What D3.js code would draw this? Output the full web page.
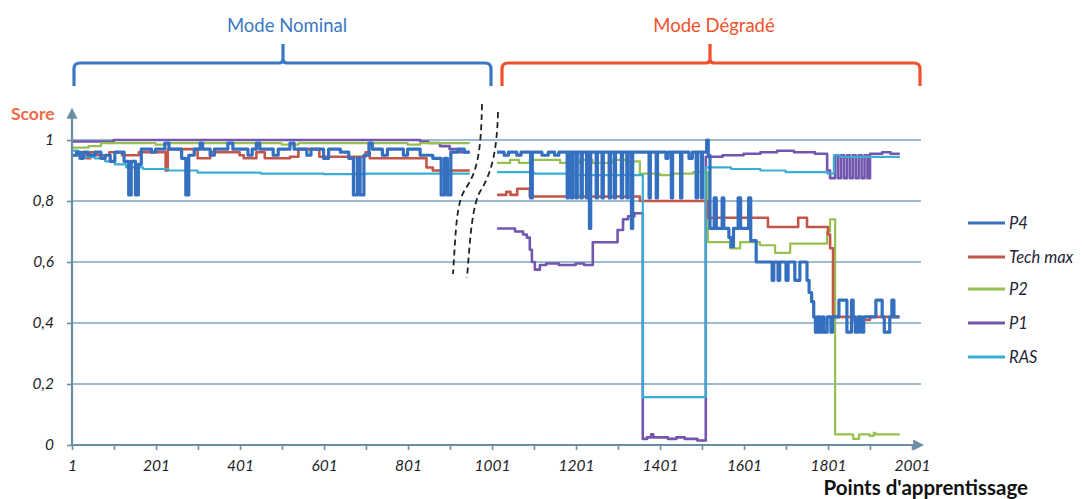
<!DOCTYPE html>
<html>
<head>
<meta charset="utf-8">
<script src="https://cdn.jsdelivr.net/npm/d3@7"></script>
<style>
  html, body { margin: 0; padding: 0; background: #ffffff; }
  svg { display: block; }
  text { font-family: Lato, "Open Sans", "Liberation Sans", sans-serif; }
</style>
</head>
<body>
<svg id="chart" width="1082" height="499"></svg>
<script>
// ---------------- DATA ----------------
// Each series: list of [learning-point index, score]; value holds until the next entry (null = gap)
const seriesNames = ["P4", "Tech max", "P2", "P1", "RAS"];

const P4 = [
  [1,0.95],[12,0.96],[20,0.94],[28,0.96],[40,0.95],[55,0.96],[70,0.94],[80,0.95],[92,0.93],[103,0.96],
  [125,0.93],[136,0.82],[142,0.93],[152,0.82],[159,0.92],[166,0.97],[190,0.96],[200,0.97],[222,0.99],[232,0.97],
  [262,0.94],[272,0.82],[279,0.95],[292,0.97],[306,0.99],[312,0.97],[330,0.95],[340,0.97],[372,0.99],[384,0.97],
  [420,0.95],[430,0.97],[440,0.99],[448,0.97],[480,0.95],[492,0.97],[520,0.99],[530,0.97],[560,0.95],[570,0.97],
  [600,0.94],[612,0.97],[640,0.96],[660,0.94],[671,0.82],[680,0.94],[687,0.82],[696,0.95],[708,0.99],[716,0.97],
  [740,0.95],[752,0.97],[790,0.95],[800,0.97],[830,0.95],[860,0.94],[880,0.82],[888,0.94],[895,0.82],[903,0.96],
  [920,0.97],[935,0.96],[948,null],
  [1013,0.96],[1030,0.95],[1040,0.96],[1060,0.95],[1070,0.96],[1093,0.81],[1097,0.96],[1120,0.95],[1135,0.96],
  [1150,0.95],[1160,0.96],[1180,0.81],[1183,0.96],[1190,0.81],[1193,0.96],[1201,0.81],[1204,0.96],[1213,0.81],
  [1216,0.96],[1226,0.81],[1229,0.96],[1233,0.71],[1236,0.96],[1249,0.81],[1252,0.96],[1263,0.81],[1266,0.96],
  [1280,0.81],[1283,0.96],[1292,0.81],[1295,0.96],[1309,0.81],[1312,0.96],[1322,0.81],[1325,0.96],[1333,0.71],
  [1336,0.96],[1375,0.81],[1378,0.96],[1392,0.81],[1395,0.96],[1415,0.94],[1420,0.96],[1428,0.81],[1431,0.96],
  [1450,0.81],[1453,0.96],[1470,0.94],[1478,0.96],[1487,0.81],[1490,0.96],[1499,0.81],[1502,0.96],[1512,1.0],
  [1516,0.95],[1520,0.71],[1530,0.81],[1535,0.71],[1549,0.81],[1553,0.71],[1565,0.68],
  [1570,0.65],[1576,0.71],[1587,0.81],[1593,0.71],[1612,0.81],[1617,0.67],[1630,0.60],[1668,0.54],[1672,0.60],
  [1682,0.54],[1686,0.60],[1701,0.54],[1706,0.60],[1722,0.54],[1734,0.60],[1751,0.54],[1756,0.50],[1762,0.47],
  [1767,0.42],[1771,0.37],[1776,0.42],[1781,0.37],[1787,0.42],[1791,0.37],[1799,0.42],[1808,0.37],[1812,0.42],
  [1827,0.475],[1846,0.37],[1857,0.475],[1861,0.42],[1866,0.37],[1873,0.42],[1880,0.37],[1886,0.42],[1915,0.475],
  [1930,0.42],[1935,0.37],[1948,0.42],[1953,0.475],[1958,0.42],[1970,null]
];

const TechMax = [
  [1,0.95],[20,0.96],[35,0.94],[45,0.96],[60,0.95],[90,0.96],[120,0.95],[160,0.96],[224,0.90],[229,0.97],
  [300,0.94],[330,0.96],[400,0.95],[410,0.94],[440,0.96],[460,0.94],[520,0.945],[540,0.97],[590,0.945],
  [700,0.96],[710,0.94],[845,0.91],[860,0.90],[948,null],
  [1013,0.82],[1035,0.83],[1045,0.82],[1061,0.84],[1091,0.815],[1353,0.80],[1515,0.745],[1658,0.715],
  [1730,0.745],[1751,0.715],[1801,0.69],[1806,0.645],[1813,0.42],[1860,0.41],[1870,0.40],[1884,0.41],
  [1901,0.42],[1972,null]
];

const P2 = [
  [1,0.975],[40,0.98],[70,0.99],[200,0.985],[230,0.99],[500,0.985],[540,0.99],[800,0.985],[830,0.99],[948,null],
  [1013,0.925],[1044,0.935],[1065,0.925],[1091,0.935],[1163,0.925],[1210,0.935],[1240,0.925],[1290,0.935],
  [1320,0.93],[1353,0.89],[1400,0.885],[1430,0.89],[1480,0.895],[1515,0.665],[1568,0.645],[1592,0.665],
  [1639,0.655],[1675,0.63],[1711,0.66],[1799,0.70],[1806,0.74],[1818,0.035],[1861,0.02],[1875,0.035],
  [1900,0.03],[1910,0.04],[1914,0.035],[1972,null]
];

const P1 = [
  [1,0.995],[100,1.0],[830,0.995],[849,0.99],[877,0.98],[900,0.97],[925,0.96],[948,null],
  [1013,0.71],[1056,0.70],[1075,0.69],[1084,0.68],[1091,0.64],[1096,0.60],[1103,0.575],[1115,0.59],
  [1130,0.595],[1160,0.59],[1200,0.595],[1220,0.59],[1241,0.665],[1300,0.705],[1313,0.74],[1325,0.75],
  [1340,0.76],[1360,0.02],[1370,0.025],[1380,0.035],[1385,0.025],[1420,0.02],[1440,0.025],[1460,0.02],
  [1490,0.015],[1510,0.945],[1550,0.95],[1600,0.955],[1640,0.96],[1680,0.965],[1720,0.96],[1770,0.955],
  [1799,0.90],[1806,0.875],[1818,0.95],[1825,0.875],[1832,0.95],[1839,0.875],[1846,0.95],[1853,0.875],
  [1860,0.95],[1867,0.875],[1874,0.95],[1881,0.875],[1888,0.95],[1895,0.875],[1901,0.955],[1930,0.96],
  [1950,0.955],[1972,null]
];

const RAS = [
  [1,0.965],[15,0.955],[30,0.945],[55,0.94],[80,0.93],[103,0.92],[130,0.91],[170,0.905],[230,0.90],
  [300,0.893],[450,0.89],[600,0.888],[700,0.89],[948,null],
  [1013,0.895],[1100,0.89],[1200,0.885],[1360,0.157],[1510,0.91],[1570,0.905],[1640,0.90],[1700,0.895],
  [1800,0.89],[1815,0.95],[1830,0.945],[1972,null]
];

const xTickValues = [1,101,201,301,401,501,601,701,801,901,1001,1101,1201,1301,1401,1501,1601,1701,1801,1901,2001];
const xTickLabels = ["1","","201","","401","","601","","801","","1001","","1201","","1401","","1601","","1801","","2001"];
const yTickValues = [0, 0.2, 0.4, 0.6, 0.8, 1];
const yTickLabels = ["0", "0,2", "0,4", "0,6", "0,8", "1"];

const modeLabels = ["Mode Nominal", "Mode Dégradé"];

// ---------------- STYLE ----------------
const colors = { "P4": "#3470bf", "Tech max": "#c4554a", "P2": "#96c04f", "P1": "#7356ad", "RAS": "#3aaed3" };
const widths = { "P4": 3.2, "Tech max": 2.6, "P2": 2.2, "P1": 2.6, "RAS": 2.2 };
const axisColor = "#6a8ea3";
const gridColor = "#7ea6bf";

const svg = d3.select("#chart");
const x = d3.scaleLinear().domain([1, 2001]).range([72, 912]);
const y = d3.scaleLinear().domain([0, 1]).range([445, 140]);

const defs = svg.append("defs");
defs.append("marker").attr("id", "arrow").attr("viewBox", "0 0 10 10")
  .attr("refX", 8).attr("refY", 5).attr("markerWidth", 5).attr("markerHeight", 5)
  .attr("orient", "auto")
  .append("path").attr("d", "M0,0 L10,5 L0,10 Z").attr("fill", axisColor);

// gridlines
svg.append("g").selectAll("line").data(yTickValues.filter(v => v > 0)).join("line")
  .attr("x1", x(1)).attr("x2", 921)
  .attr("y1", d => y(d)).attr("y2", d => y(d))
  .attr("stroke", gridColor).attr("stroke-width", 1.3);

// series
function expand(arr) {
  const pts = [];
  for (let k = 0; k < arr.length; k++) {
    const [i, v] = arr[k];
    if (v === null) {
      const prev = arr[k - 1];
      pts.push({ i: i, v: prev[1] });
      pts.push({ i: i, v: null });
    } else {
      pts.push({ i: i, v: v });
    }
  }
  return pts;
}
const seriesData = { "P4": P4, "Tech max": TechMax, "P2": P2, "P1": P1, "RAS": RAS };
const line = d3.line().defined(d => d.v !== null).x(d => x(d.i)).y(d => y(d.v)).curve(d3.curveStepAfter);

const drawOrder = ["P1", "P2", "Tech max", "RAS", "P4"];
const gLines = svg.append("g");
drawOrder.forEach(name => {
  gLines.append("path")
    .attr("d", line(expand(seriesData[name])))
    .attr("fill", "none")
    .attr("stroke", colors[name])
    .attr("stroke-width", widths[name])
    .attr("stroke-linejoin", "round");
});

// axes
const xAxis = d3.axisBottom(x).tickValues(xTickValues)
  .tickFormat((d, k) => xTickLabels[k]).tickSize(5).tickPadding(10);
const gx = svg.append("g").attr("transform", `translate(0,${y(0)})`).call(xAxis);
gx.select(".domain").remove();
gx.selectAll(".tick line").attr("stroke", axisColor).attr("stroke-width", 1.6);
gx.selectAll(".tick text").attr("fill", "#1e1e28").attr("font-size", 15.5).attr("font-style", "italic");

const yAxis = d3.axisLeft(y).tickValues(yTickValues)
  .tickFormat((d, k) => yTickLabels[k]).tickSize(5).tickPadding(13);
const gy = svg.append("g").attr("transform", `translate(${x(1)},0)`).call(yAxis);
gy.select(".domain").remove();
gy.selectAll(".tick line").attr("stroke", axisColor).attr("stroke-width", 1.6);
gy.selectAll(".tick text").attr("fill", "#1e1e28").attr("font-size", 15.5).attr("font-style", "italic");

svg.append("line").attr("x1", x(1)).attr("x2", 922).attr("y1", y(0)).attr("y2", y(0))
  .attr("stroke", axisColor).attr("stroke-width", 2.2).attr("marker-end", "url(#arrow)");
svg.append("line").attr("x1", x(1)).attr("x2", x(1)).attr("y1", y(0)).attr("y2", 110)
  .attr("stroke", axisColor).attr("stroke-width", 2.2).attr("marker-end", "url(#arrow)");

// axis titles
svg.append("text").attr("x", 11).attr("y", 120).text("Score")
  .attr("fill", "#ef6a45").attr("font-weight", "bold").attr("font-size", 17.5);
svg.append("text").attr("x", 1028).attr("y", 495).attr("text-anchor", "end").text("Points d'apprentissage")
  .attr("fill", "#111").attr("font-weight", "bold").attr("font-size", 20.5);

// break marks (dashed)
const breakPaths = [
  "M482,104 C481,150 478,170 466,188 C456,202 456,230 453,274",
  "M498,112 C497,150 492,172 481,190 C472,204 470,240 467,278"
];
svg.append("g").selectAll("path").data(breakPaths).join("path")
  .attr("d", d => d).attr("fill", "none").attr("stroke", "#222")
  .attr("stroke-width", 1.8).attr("stroke-dasharray", "6,4");

// mode braces
function bracePath(x0, x1, xc, yh, yEnd, yTip) {
  const r = 6;
  return `M${x0},${yEnd} L${x0},${yh + r} Q${x0},${yh} ${x0 + r},${yh} L${xc - 4},${yh} Q${xc},${yh} ${xc},${yh - 4} L${xc},${yTip}` +
         ` M${xc},${yh - 4} Q${xc},${yh} ${xc + 4},${yh} L${x1 - r},${yh} Q${x1},${yh} ${x1},${yh + r} L${x1},${yEnd}`;
}
const braceColors = ["#3a78c2", "#f0512a"];
const braceGeom = [[74, 491, 283], [502, 920, 710]];
braceGeom.forEach((g, k) => {
  svg.append("path").attr("d", bracePath(g[0], g[1], g[2], 63, 86, 44))
    .attr("fill", "none").attr("stroke", braceColors[k]).attr("stroke-width", 3.2)
    .attr("stroke-linejoin", "round");
  svg.append("text").attr("x", g[2] + 4).attr("y", 32).attr("text-anchor", "middle")
    .text(modeLabels[k]).attr("fill", braceColors[k]).attr("font-size", 18.5);
});

// legend
const legendY = [223, 257, 289, 323, 357];
const gl = svg.append("g");
seriesNames.forEach((name, k) => {
  gl.append("line").attr("x1", 968).attr("x2", 1005).attr("y1", legendY[k]).attr("y2", legendY[k])
    .attr("stroke", colors[name]).attr("stroke-width", 3);
  gl.append("text").attr("x", 1009).attr("y", legendY[k] + 6).text(name)
    .attr("fill", "#1e2638").attr("font-size", 16.5).attr("font-style", "italic");
});
</script>
</body>
</html>
